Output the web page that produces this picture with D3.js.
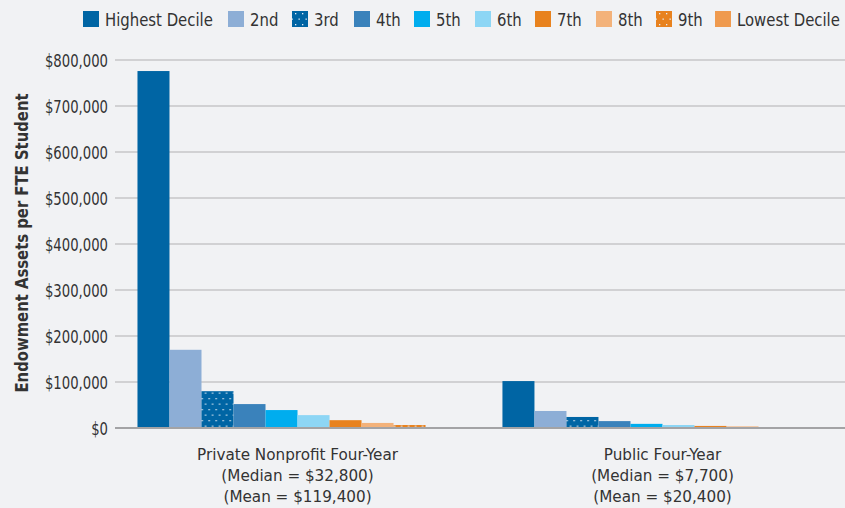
<!DOCTYPE html>
<html><head><meta charset="utf-8">
<script src="https://cdn.jsdelivr.net/npm/d3@7"></script>
<style>
html,body{margin:0;padding:0;background:#f1f2f4;}
svg{display:block;}
text{font-family:"Liberation Sans Narrow","DejaVu Sans Condensed","Roboto",sans-serif;fill:#333;}
</style></head>
<body>
<svg id="c" width="845" height="508"></svg>
<script>
const categories = ["Private Nonprofit Four-Year", "Public Four-Year"];
const categoryNotes = [["(Median = $32,800)", "(Mean = $119,400)"], ["(Median = $7,700)", "(Mean = $20,400)"]];
const deciles = ["Highest Decile","2nd","3rd","4th","5th","6th","7th","8th","9th","Lowest Decile"];
const privateValues = [776000, 170000, 80000, 52000, 39000, 28000, 17000, 11000, 6500, 1500];
const publicValues = [102000, 37000, 24000, 15000, 9000, 6500, 4500, 3500, 1800, 500];
const yTicks = [0,100000,200000,300000,400000,500000,600000,700000,800000];
const colors = ["#0065a4","#8daed6","#0065a4","#3a82bb","#00adee","#8dd6f5","#e8821e","#f3b27a","#e8821e","#ef9a4e"];
const dotted = [false,false,true,false,false,false,false,false,true,false];
const legendX = [83,228,292,354,414,475,535,596,656,715];

const svg = d3.select("#c");
const y = d3.scaleLinear().domain([0,800000]).range([428,60]);
const x0 = d3.scaleBand().domain(categories).range([115,845]).paddingInner(0.123).paddingOuter(0.0616);
const x1 = d3.scaleBand().domain(deciles).range([0, x0.bandwidth()]).padding(0);

function label(parent, x, yy, str, size, anchor, sx, bold){
  const gg = parent.append("g").attr("transform",`translate(${x},${yy}) scale(${sx},1)`);
  const t = gg.append("text").attr("text-anchor",anchor).style("font-size",size+"px").text(str);
  if(bold) t.style("font-weight","bold");
  return t;
}

const defs = svg.append("defs");
colors.forEach((c,i)=>{
  if(!dotted[i]) return;
  const p = defs.append("pattern").attr("id","dots"+i).attr("patternUnits","userSpaceOnUse")
    .attr("width",7).attr("height",11);
  p.append("rect").attr("width",7).attr("height",11).attr("fill",c);
  p.append("rect").attr("x",1).attr("y",2).attr("width",1.3).attr("height",1.3).attr("fill","#e6eef6");
  p.append("rect").attr("x",4.5).attr("y",7.5).attr("width",1.3).attr("height",1.3).attr("fill","#e6eef6");
});
const fillOf = i => dotted[i] ? `url(#dots${i})` : colors[i];

// gridlines
svg.append("g").selectAll("line").data(yTicks.filter(d=>d>0)).join("line")
  .attr("x1",115).attr("x2",845).attr("y1",d=>y(d)).attr("y2",d=>y(d))
  .attr("stroke","#c6c6c8").attr("stroke-width",1.5);

// y tick labels
const yl = svg.append("g");
yTicks.forEach(d=>{
  label(yl, 108, y(d)+6.5, "$"+d3.format(",")(d), 17.5, "end", 0.84, false);
});

// y title
svg.append("g").attr("transform","translate(28,243) rotate(-90) scale(0.97,1)")
  .append("text").attr("text-anchor","middle").style("font-size","17px").style("font-weight","bold")
  .text("Endowment Assets per FTE Student");

// bars
const series = [privateValues, publicValues];
const g = svg.append("g");
categories.forEach((cat,ci)=>{
  g.append("g").attr("transform",`translate(${x0(cat)},0)`)
   .selectAll("rect").data(series[ci].map((v,i)=>({v,i}))).join("rect")
   .attr("x",d=>x1(deciles[d.i])).attr("width",x1.bandwidth())
   .attr("y",d=>y(d.v)).attr("height",d=>y(0)-y(d.v))
   .attr("fill",d=>fillOf(d.i));
});

// baseline
svg.append("line").attr("x1",115).attr("x2",845).attr("y1",y(0)).attr("y2",y(0))
  .attr("stroke","#a3a3a5").attr("stroke-width",2);

// category labels
const cl = svg.append("g");
categories.forEach((cat,ci)=>{
  const cx = x0(cat)+x0.bandwidth()/2;
  const lines = [cat].concat(categoryNotes[ci]);
  lines.forEach((s,i)=> label(cl, cx, 459.5+i*21, s, 16.5, "middle", 1.025, false));
});

// legend
const lg = svg.append("g");
deciles.forEach((d,i)=>{
  lg.append("rect").attr("x",legendX[i]).attr("y",11).attr("width",16).attr("height",16).attr("fill",fillOf(i));
  label(lg, legendX[i]+22, 26, d, 17.5, "start", 0.945, false);
});
</script>
</body></html>
